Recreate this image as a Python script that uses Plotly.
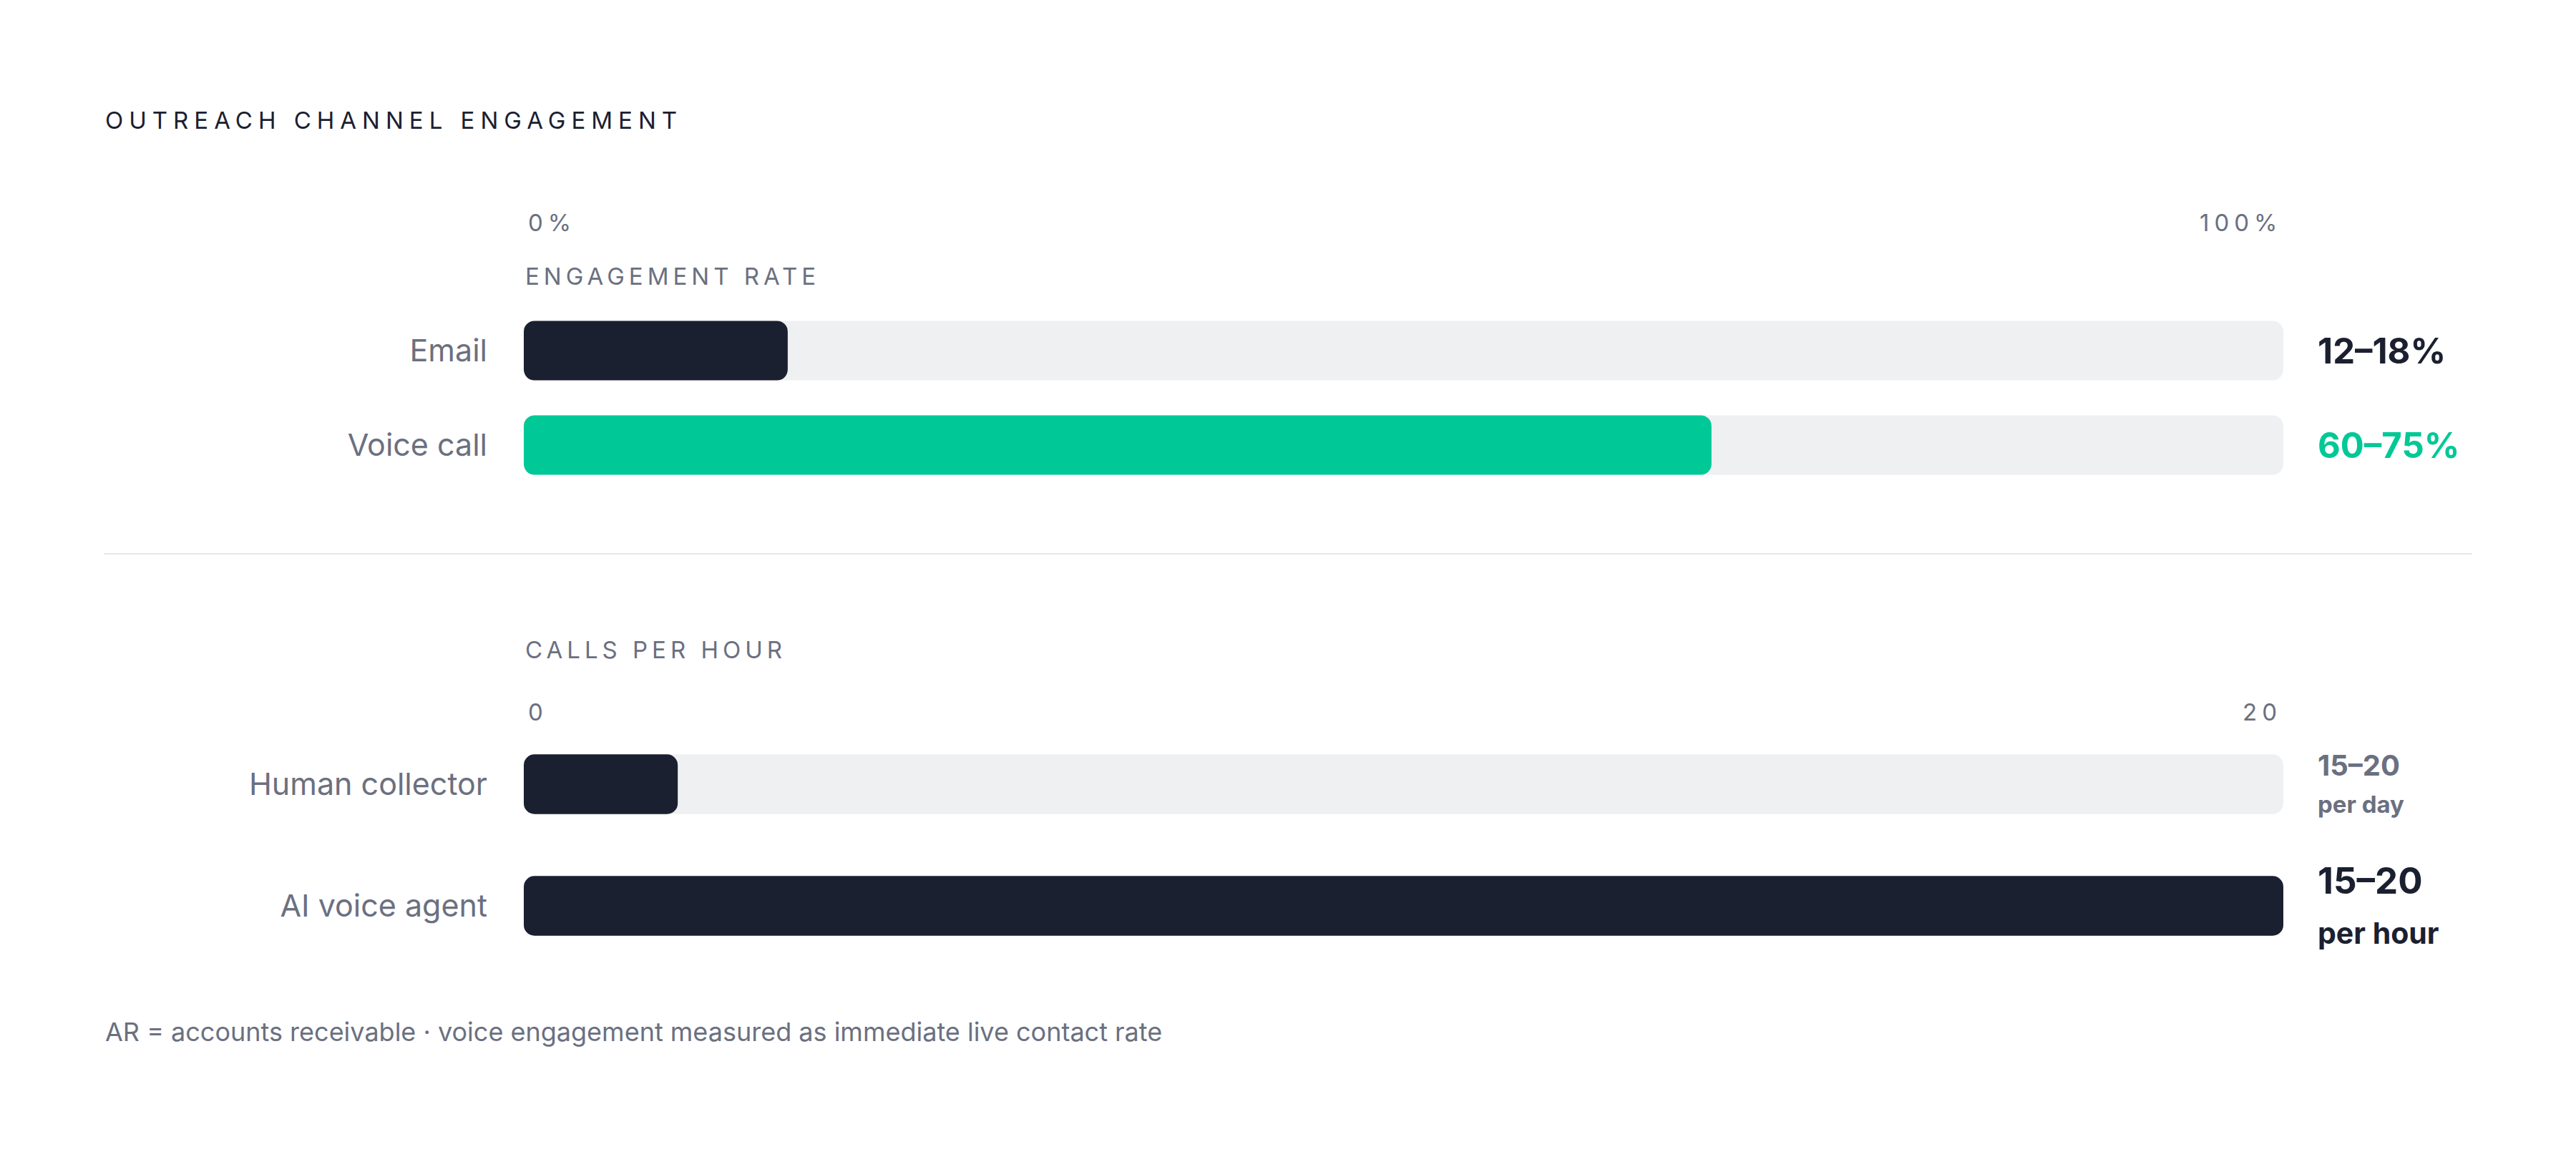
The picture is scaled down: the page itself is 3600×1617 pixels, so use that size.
import plotly.graph_objects as go

W, H = 3600, 1617
OFF = 8  # page body margin in the browser

# engagement rate (%), bar drawn at the midpoint of the quoted range
channels = ["Email", "Voice call"]
engagement = [15, 67.5]
engagement_text = ["12–18%", "60–75%"]

# calls per hour
agents = ["Human collector", "AI voice agent"]
calls_per_hour = [1.75, 20]
calls_text = ["15–20", "15–20"]
calls_unit = ["per day", "per hour"]

rate_ticks = ["0%", "100%"]
calls_ticks = ["0", "20"]
rate_max = 100
calls_max = 20

DARK = "#1b2030"
GREEN = "#00c896"
TRACK = "#eff0f2"
GREY = "#6b7080"
FONT = "Inter"


def spaced(text, px):
    # plotly passes span styles through to the svg tspan
    return f'<span style="letter-spacing:{px}px">{text}</span>'


def px(x):
    return (x - OFF) / W


def py(y):
    return 1 - (y - OFF) / H


def pill(cats, vals, color, width, xa, ya, hover=True):
    # an explicit base makes plotly round all four corners, not just the tip
    return go.Bar(y=cats, x=vals, base=0, orientation="h", width=width,
                  marker=dict(color=color, cornerradius=15, line_width=0),
                  hoverinfo="x+y" if hover else "skip", xaxis=xa, yaxis=ya)


fig = go.Figure()

# Engagement rate: grey track + filled bar
fig.add_trace(pill(channels, [rate_max] * len(channels), TRACK, 0.63, "x", "y", hover=False))
fig.add_trace(pill(channels, engagement, [DARK, GREEN], 0.63, "x", "y"))

# Calls per hour
fig.add_trace(pill(agents, [calls_max] * len(agents), TRACK, 0.49, "x2", "y2", hover=False))
fig.add_trace(pill(agents, calls_per_hour, DARK, 0.49, "x2", "y2"))

xdom = [px(732), px(3191)]
xcommon = dict(domain=xdom, showgrid=False, zeroline=False, showticklabels=False,
               showline=False, fixedrange=True)
ycommon = dict(showgrid=False, zeroline=False, showline=False, ticks="",
               ticklabelstandoff=50, automargin=False, range=[1.5, -0.5],
               tickfont=dict(family=FONT, size=43, color=GREY))

fig.update_layout(
    width=W, height=H,
    margin=dict(l=0, r=0, t=0, b=0),
    paper_bgcolor="white", plot_bgcolor="white",
    barmode="overlay", showlegend=False,
    font=dict(family=FONT),
    xaxis=dict(range=[0, rate_max], anchor="y", **xcommon),
    yaxis=dict(domain=[py(688), py(424)], anchor="x", **ycommon),
    xaxis2=dict(range=[0, calls_max], anchor="y2", **xcommon),
    yaxis2=dict(domain=[py(1351), py(1011)], anchor="x2", **ycommon),
)

ann = []
# title
ann.append(dict(text=spaced("OUTREACH CHANNEL ENGAGEMENT", 8), xref="paper", yref="paper",
                x=px(145), y=py(168), xanchor="left", yanchor="middle",
                font=dict(size=33, color=DARK)))

# section headings and range ticks
ann.append(dict(text=spaced("ENGAGEMENT RATE", 6), xref="x", yref="paper", x=0, y=py(386),
                xanchor="left", yanchor="middle", font=dict(size=33, color=GREY)))
ann.append(dict(text=spaced(rate_ticks[0], 7), xref="x", yref="paper", x=0, y=py(311),
                xanchor="left", yanchor="middle", xshift=4, font=dict(size=33, color=GREY)))
ann.append(dict(text=spaced(rate_ticks[1], 7), xref="x", yref="paper", x=rate_max, y=py(311),
                xanchor="right", yanchor="middle", font=dict(size=33, color=GREY)))

ann.append(dict(text=spaced("CALLS PER HOUR", 6), xref="x2", yref="paper", x=0, y=py(908),
                xanchor="left", yanchor="middle", font=dict(size=33, color=GREY)))
ann.append(dict(text=spaced(calls_ticks[0], 7), xref="x2", yref="paper", x=0, y=py(995),
                xanchor="left", yanchor="middle", xshift=4, font=dict(size=33, color=GREY)))
ann.append(dict(text=spaced(calls_ticks[1], 7), xref="x2", yref="paper", x=calls_max, y=py(995),
                xanchor="right", yanchor="middle", font=dict(size=33, color=GREY)))

# value labels, engagement
for ch, txt, col in zip(channels, engagement_text, [DARK, GREEN]):
    ann.append(dict(text=txt, xref="x", yref="y", x=rate_max, y=ch, xanchor="left",
                    yanchor="middle", xshift=46,
                    font=dict(size=49, color=col, weight=700)))

# value labels, calls
label_style = [
    (GREY, 40, 33, 27, -28),
    (DARK, 51, 41, 36, -38),
]
for ag, txt, unit, (col, s1, s2, up, down) in zip(agents, calls_text, calls_unit, label_style):
    ann.append(dict(text=txt, xref="x2", yref="y2", x=calls_max, y=ag, xanchor="left",
                    yanchor="middle", xshift=46, yshift=up,
                    font=dict(size=s1, color=col, weight=700)))
    ann.append(dict(text=unit, xref="x2", yref="y2", x=calls_max, y=ag, xanchor="left",
                    yanchor="middle", xshift=46, yshift=down,
                    font=dict(size=s2, color=col, weight=700)))

# footnote
ann.append(dict(text="AR = accounts receivable · voice engagement measured as immediate live contact rate",
                xref="paper", yref="paper", x=px(145), y=py(1442), xanchor="left",
                yanchor="middle", font=dict(size=36, color=GREY)))

for a in ann:
    a["showarrow"] = False
    a.setdefault("font", {})["family"] = FONT
fig.update_layout(annotations=ann)

# divider between the two panels
fig.add_shape(type="line", xref="paper", yref="paper", x0=px(145), x1=px(3455),
              y0=py(774), y1=py(774), line=dict(color="#e5e7eb", width=2))

fig.write_html("out.html")
